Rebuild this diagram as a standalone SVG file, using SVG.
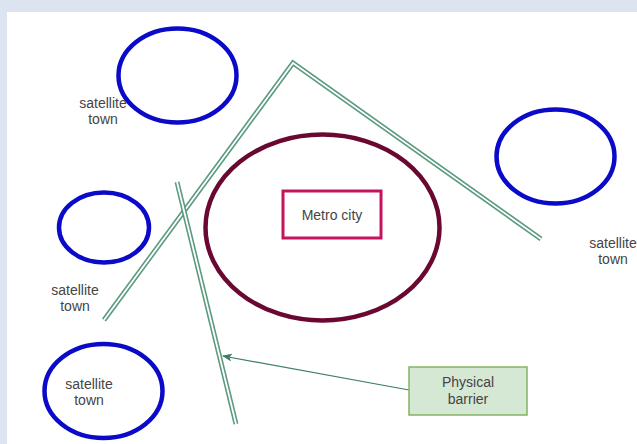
<svg xmlns="http://www.w3.org/2000/svg" width="637" height="444" viewBox="0 0 637 444">
<defs>
<style>
.sat{fill:none;stroke:#0a0ac8;stroke-width:4.5}
.metro{fill:none;stroke:#6a0832;stroke-width:4.5}
.bo{fill:none;stroke:#5a9a7e;stroke-width:5;stroke-linejoin:miter}
.bi{fill:none;stroke:#ffffff;stroke-width:1.8;stroke-linejoin:miter}
.lbl{font-family:"Liberation Sans",Arial,sans-serif;font-size:14px;fill:#444444;text-anchor:middle}
</style>
<marker id="ah" markerWidth="10" markerHeight="8" refX="9" refY="4" orient="auto" markerUnits="userSpaceOnUse">
<path d="M0,0 L10,4 L0,8 L2.5,4 Z" fill="#3d7f63"/>
</marker>
</defs>
<rect x="0" y="0" width="637" height="444" fill="#dbe4f0"/>
<rect x="7" y="12" width="630" height="432" fill="#ffffff"/>

<g id="connectors">
<polyline class="bo" points="104,320 293,63 541,239"/>
<polyline class="bi" points="104,320 293,63 541,239"/>
<line class="bo" x1="177" y1="182" x2="236" y2="424"/>
<line class="bi" x1="177" y1="182" x2="236" y2="424"/>
<line x1="409" y1="390" x2="223" y2="356" stroke="#3d7f63" stroke-width="1.2" marker-end="url(#ah)"/>
</g>

<g id="sat-top">
<ellipse class="sat" cx="177.5" cy="75.5" rx="59" ry="47"/>
<text class="lbl" x="103" y="108">satellite</text>
<text class="lbl" x="103" y="124">town</text>
</g>
<g id="sat-left">
<ellipse class="sat" cx="104" cy="227.5" rx="45" ry="35"/>
<text class="lbl" x="75" y="295">satellite</text>
<text class="lbl" x="75" y="311">town</text>
</g>
<g id="sat-bottom">
<ellipse class="sat" cx="103.5" cy="391" rx="59" ry="47"/>
<text class="lbl" x="89" y="389">satellite</text>
<text class="lbl" x="89" y="405">town</text>
</g>
<g id="sat-right">
<ellipse class="sat" cx="555.5" cy="156.5" rx="59" ry="47"/>
<text class="lbl" x="613" y="248">satellite</text>
<text class="lbl" x="613" y="264">town</text>
</g>
<g id="metro">
<ellipse class="metro" cx="322.5" cy="227.5" rx="117" ry="93"/>
<rect x="283" y="191" width="98" height="47" fill="#ffffff" stroke="#c4145e" stroke-width="3"/>
<text class="lbl" x="332" y="220">Metro city</text>
</g>
<g id="barrier-label">
<rect x="409" y="367" width="118" height="48" fill="#d5e8d4" stroke="#82b366" stroke-width="1.5"/>
<text class="lbl" x="468" y="387">Physical</text>
<text class="lbl" x="468" y="404">barrier</text>
</g>
</svg>
